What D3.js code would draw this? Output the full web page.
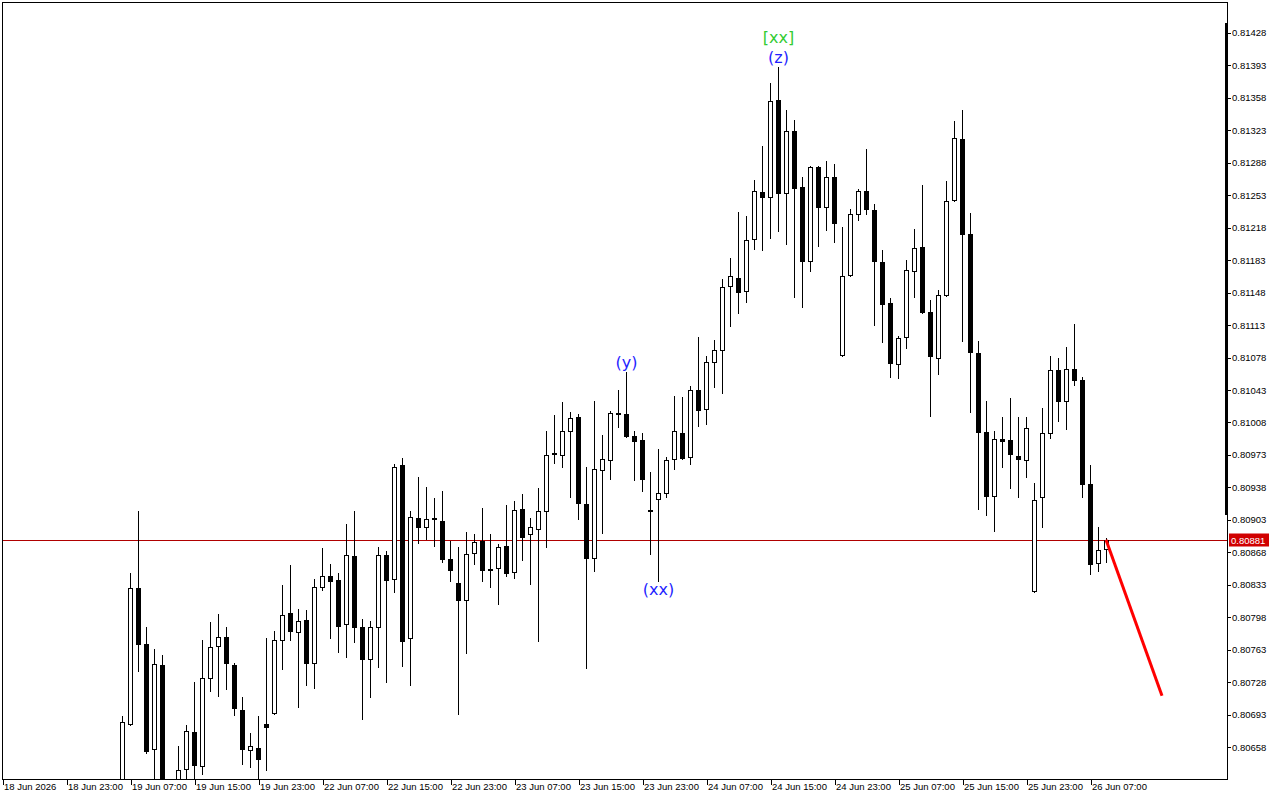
<!DOCTYPE html>
<html><head><meta charset="utf-8">
<script src="https://cdn.jsdelivr.net/npm/d3@7"></script>
<style>html,body{margin:0;padding:0;background:#fff;overflow:hidden}svg{display:block}</style>
</head><body><svg id="c" width="1280" height="800"></svg>
<script>
// ---------- data (H1 bars, index 0 = 18 Jun 2026 15:00) ----------
const firstBar = 15;
const opens = [0.80601,0.80682,0.80829,0.80769,0.80656,0.80746,0.80603,0.80610,0.80634,0.80674,
0.80637,0.80732,0.80767,0.80776,0.80746,0.80698,0.80654,0.80657,0.80682,0.80694,
0.80773,0.80802,0.80782,0.80795,0.80748,0.80830,0.80842,0.80838,0.80790,0.80864,
0.80787,0.80753,0.80787,0.80865,0.80839,0.80962,0.80775,0.80905,0.80895,0.80905,
0.80901,0.80860,0.80834,0.80816,0.80867,0.80880,0.80849,0.80851,0.80874,0.80846,
0.80914,0.80887,0.80893,0.80912,0.80975,0.80972,0.80998,0.81013,0.80920,0.80861,
0.80956,0.80967,0.81018,0.81017,0.80993,0.80989,0.80913,0.80925,0.80931,0.80968,
0.80996,0.80970,0.81042,0.81022,0.81073,0.81086,0.81155,0.81163,0.81149,0.81205,
0.81256,0.81250,0.81355,0.81255,0.81322,0.81261,0.81182,0.81283,0.81240,0.81272,
0.81080,0.81166,0.81232,0.81257,0.81237,0.81180,0.81136,0.81070,0.81100,0.81171,
0.81197,0.81126,0.81077,0.81145,0.81247,0.81313,0.81211,0.81082,0.80997,0.80928,
0.80990,0.80989,0.80971,0.80967,0.80826,0.80927,0.80996,0.81064,0.81031,0.81065,
0.81053,0.80941,0.80856,0.80871];
const highs = [0.80691,0.80845,0.80912,0.80787,0.80763,0.80757,0.80618,0.80659,0.80681,0.80728,
0.80773,0.80792,0.80801,0.80787,0.80748,0.80712,0.80673,0.80691,0.80775,0.80783,
0.80832,0.80854,0.80806,0.80805,0.80839,0.80872,0.80855,0.80845,0.80898,0.80912,
0.80796,0.80793,0.80873,0.80869,0.80963,0.80969,0.80912,0.80949,0.80938,0.80926,
0.80934,0.80880,0.80873,0.80889,0.80887,0.80915,0.80887,0.80876,0.80918,0.80923,
0.80930,0.80905,0.80937,0.80998,0.81015,0.81029,0.81019,0.81017,0.80959,0.81031,
0.80994,0.81020,0.81042,0.81062,0.80998,0.80996,0.80954,0.80979,0.80970,0.81036,
0.81035,0.81047,0.81100,0.81079,0.81096,0.81162,0.81185,0.81234,0.81230,0.81269,
0.81305,0.81373,0.81391,0.81344,0.81334,0.81272,0.81284,0.81284,0.81289,0.81286,
0.81218,0.81238,0.81259,0.81302,0.81243,0.81193,0.81142,0.81101,0.81183,0.81216,
0.81263,0.81139,0.81150,0.81268,0.81332,0.81344,0.81233,0.81095,0.81031,0.80998,
0.81013,0.81034,0.81013,0.81013,0.80942,0.81023,0.81079,0.81077,0.81089,0.81114,
0.81056,0.80962,0.80895,0.80883];
const lows = [0.80595,0.80681,0.80740,0.80651,0.80615,0.80598,0.80596,0.80604,0.80615,0.80618,
0.80629,0.80718,0.80713,0.80720,0.80692,0.80639,0.80636,0.80615,0.80633,0.80693,
0.80742,0.80773,0.80701,0.80725,0.80721,0.80827,0.80775,0.80760,0.80755,0.80771,
0.80688,0.80712,0.80744,0.80728,0.80825,0.80745,0.80725,0.80878,0.80882,0.80874,
0.80857,0.80837,0.80693,0.80759,0.80855,0.80837,0.80830,0.80812,0.80842,0.80840,
0.80859,0.80833,0.80772,0.80873,0.80964,0.80960,0.80927,0.80903,0.80743,0.80847,
0.80888,0.80946,0.81003,0.80992,0.80945,0.80934,0.80866,0.80837,0.80927,0.80957,
0.80968,0.80963,0.81004,0.81006,0.81046,0.81039,0.81111,0.81125,0.81137,0.81194,
0.81193,0.81206,0.81214,0.81200,0.81143,0.81132,0.81171,0.81198,0.81215,0.81202,
0.81079,0.81165,0.81226,0.81232,0.81113,0.81094,0.81057,0.81055,0.81088,0.81143,
0.81125,0.81014,0.81060,0.81144,0.81246,0.81095,0.81019,0.80914,0.80908,0.80890,
0.80960,0.80937,0.80927,0.80949,0.80825,0.80895,0.80991,0.81009,0.81000,0.81048,
0.80927,0.80844,0.80847,0.80857];
const closes = [0.80685,0.80829,0.80769,0.80653,0.80747,0.80605,0.80612,0.80633,0.80675,0.80638,
0.80732,0.80765,0.80776,0.80748,0.80700,0.80656,0.80659,0.80645,0.80679,0.80773,
0.80800,0.80783,0.80794,0.80748,0.80830,0.80842,0.80837,0.80788,0.80865,0.80787,
0.80753,0.80787,0.80865,0.80838,0.80959,0.80772,0.80906,0.80895,0.80903,0.80903,
0.80860,0.80848,0.80816,0.80866,0.80879,0.80848,0.80848,0.80873,0.80845,0.80913,
0.80884,0.80895,0.80912,0.80972,0.80973,0.80998,0.81012,0.80921,0.80861,0.80957,
0.80968,0.81018,0.81017,0.80993,0.80987,0.80946,0.80912,0.80931,0.80967,0.80998,
0.80969,0.81042,0.81021,0.81073,0.81086,0.81153,0.81165,0.81148,0.81204,0.81257,
0.81250,0.81354,0.81255,0.81322,0.81260,0.81182,0.81283,0.81240,0.81272,0.81222,
0.81165,0.81232,0.81257,0.81238,0.81182,0.81135,0.81072,0.81098,0.81172,0.81195,
0.81126,0.81079,0.81145,0.81246,0.81314,0.81211,0.81083,0.80997,0.80928,0.80990,
0.80987,0.80973,0.80968,0.81001,0.80924,0.80996,0.81064,0.81031,0.81065,0.81053,
0.80941,0.80855,0.80870,0.80881];

const yTicks = [0.80658,0.80693,0.80728,0.80763,0.80798,0.80833,0.80868,0.80903,0.80938,0.80973,
0.81008,0.81043,0.81078,0.81113,0.81148,0.81183,0.81218,0.81253,0.81288,0.81323,0.81358,0.81393,0.81428];
const xTickBars = [0,8,16,24,32,40,48,56,64,72,80,88,96,104,112,120,128,136];
const xTickLabels = ["18 Jun 2026","18 Jun 23:00","19 Jun 07:00","19 Jun 15:00","19 Jun 23:00",
"22 Jun 07:00","22 Jun 15:00","22 Jun 23:00","23 Jun 07:00","23 Jun 15:00","23 Jun 23:00",
"24 Jun 07:00","24 Jun 15:00","24 Jun 23:00","25 Jun 07:00","25 Jun 15:00","25 Jun 23:00","26 Jun 07:00"];
const lastPrice = 0.80881;
const forecastBars = [138, 145];
const forecastPrices = [0.80881, 0.80713];
const waveTexts = ["(y)", "(xx)", "(z)", "[xx]"];
const waveBars = [78, 82, 97, 97];
const wavePlace = ["above", "below", "above", "above2"];
const waveColors = ["#1f1fff", "#1f1fff", "#1f1fff", "#33cc33"];

// ---------- layout ----------
const L = 2, T = 2, R = 1227, B = 779;
const svg = d3.select("#c");
svg.append("rect").attr("width",1280).attr("height",800).attr("fill","#fff");

const x = d3.scaleLinear().domain([0, 138]).range([2, 1106]);
const y = d3.scaleLinear().domain([0.80658, 0.81428]).range([746.7, 32.3]);

svg.append("defs").append("clipPath").attr("id","plot")
  .append("rect").attr("x",L).attr("y",T).attr("width",R-L).attr("height",B-T);

const g = svg.append("g").attr("clip-path","url(#plot)");

// price line
const py = Math.round(y(lastPrice)) + 0.5;
g.append("line").attr("x1",L).attr("x2",R).attr("y1",py).attr("y2",py)
  .attr("stroke","#b00000").attr("stroke-width",1).attr("shape-rendering","crispEdges");

// candles
const n = opens.length;
const candles = d3.range(n).map(i => ({k: firstBar + i, o: opens[i], h: highs[i], l: lows[i], c: closes[i]}));
const cg = g.append("g").attr("shape-rendering","crispEdges");
candles.forEach(d => {
  const cx = Math.round(x(d.k));
  cg.append("line").attr("x1",cx+0.5).attr("x2",cx+0.5)
    .attr("y1",Math.round(y(d.h))).attr("y2",Math.round(y(d.l))+1)
    .attr("stroke","#000").attr("stroke-width",1);
  const top = Math.round(y(Math.max(d.o,d.c)));
  const bot = Math.round(y(Math.min(d.o,d.c)));
  if (d.c > d.o) {
    cg.append("rect").attr("x",cx-1.5).attr("y",top+0.5).attr("width",4).attr("height",Math.max(bot-top,1))
      .attr("fill","#fff").attr("stroke","#000").attr("stroke-width",1);
  } else {
    cg.append("rect").attr("x",cx-2).attr("y",top).attr("width",5).attr("height",Math.max(bot-top+1,2))
      .attr("fill","#000");
  }
});

// forecast line
g.append("line")
  .attr("x1",x(forecastBars[0])).attr("y1",y(forecastPrices[0]))
  .attr("x2",x(forecastBars[1])).attr("y2",y(forecastPrices[1]))
  .attr("stroke","#ff0000").attr("stroke-width",3);

// wave labels
waveTexts.forEach((t,i) => {
  const k = waveBars[i], idx = k - firstBar;
  let ty;
  if (wavePlace[i] === "above") ty = y(highs[idx]) - 9;
  else if (wavePlace[i] === "above2") ty = y(highs[idx]) - 29;
  else ty = y(lows[idx]) + 9;
  g.append("text").attr("x",x(k)+0.5).attr("y",ty).attr("dy","0.35em")
    .attr("text-anchor","middle").attr("font-family","DejaVu Sans, sans-serif").attr("font-size",16)
    .attr("fill",waveColors[i]).text(t);
});

// frame
svg.append("rect").attr("x",L+0.5).attr("y",T+0.5).attr("width",R-L).attr("height",B-T)
  .attr("fill","none").attr("stroke","#000").attr("stroke-width",1).attr("shape-rendering","crispEdges");
svg.append("rect").attr("x",R-2).attr("y",23).attr("width",3).attr("height",492).attr("fill","#000");

// y axis
const yAxis = d3.axisRight(y).tickValues(yTicks).tickFormat(d3.format(".5f")).tickSize(3).tickPadding(1);
const ya = svg.append("g").attr("transform",`translate(${R+1},0.5)`).call(yAxis);
ya.select(".domain").remove();
ya.selectAll("line").attr("stroke","#000").attr("shape-rendering","crispEdges");
ya.selectAll("text").attr("font-family","Liberation Sans, Arial, sans-serif").attr("font-size",9.5).attr("fill","#000");

// current price label
svg.append("rect").attr("x",R+2).attr("y",py-7).attr("width",40).attr("height",13).attr("fill","#d00000");
svg.append("text").attr("x",R+4).attr("y",py).attr("dy","0.33em")
  .attr("font-family","Liberation Sans, Arial, sans-serif").attr("font-size",9.5).attr("fill","#fff").text(d3.format(".5f")(lastPrice));

// x axis
const xAxis = d3.axisBottom(x).tickValues(xTickBars).tickFormat((d,i) => xTickLabels[i]).tickSize(5).tickPadding(2);
const xa = svg.append("g").attr("transform",`translate(0.5,${B+0.5})`).call(xAxis);
xa.select(".domain").remove();
xa.selectAll("line").attr("stroke","#000").attr("shape-rendering","crispEdges");
xa.selectAll("text").attr("text-anchor","start").attr("x",1).attr("y",4).attr("dy","0.71em")
  .attr("font-family","Liberation Sans, Arial, sans-serif").attr("font-size",9.5).attr("fill","#000");
</script>
</body></html>
